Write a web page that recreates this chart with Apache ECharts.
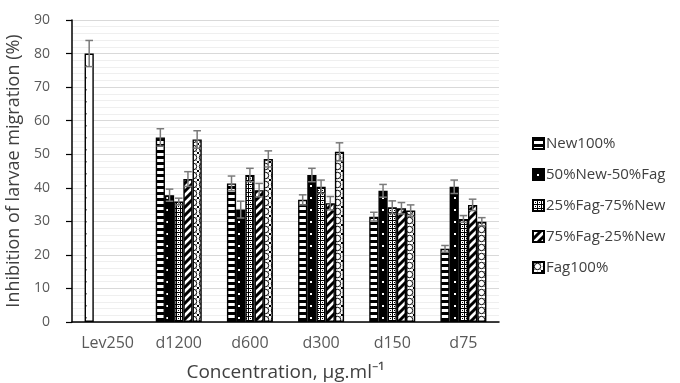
<!DOCTYPE html>
<html><head><meta charset="utf-8">
<script src="https://cdn.jsdelivr.net/npm/echarts@6/dist/echarts.min.js"></script>
<style>html,body{margin:0;padding:0;background:#fff}#c{width:680px;height:383px}</style>
</head><body><div id="c"></div>
<script>
// ---- data ----
const categories = ['Lev250', 'd1200', 'd600', 'd300', 'd150', 'd75'];
const seriesNames = ['New100%', '50%New-50%Fag', '25%Fag-75%New', '75%Fag-25%New', 'Fag100%'];
const new100      = [80.0, 55.0, 41.3, 36.4, 31.4, 21.8];
const new50fag50  = [null, 37.8, 33.5, 43.8, 39.1, 40.3];
const fag25new75  = [null, 35.9, 43.8, 40.3, 34.2, 30.7];
const fag75new25  = [null, 42.6, 39.3, 35.4, 33.9, 34.9];
const fag100      = [null, 54.4, 48.6, 50.7, 33.2, 29.9];
const errNew100     = [3.9, 2.6, 2.2, 1.5, 1.3, 1.0];
const errNew50fag50 = [null, 1.8, 2.5, 2.0, 1.9, 2.0];
const errFag25new75 = [null, 1.0, 2.0, 2.0, 1.9, 1.0];
const errFag75new25 = [null, 2.2, 2.0, 2.0, 1.7, 1.7];
const errFag100     = [null, 2.6, 2.4, 2.7, 1.7, 1.2];
const yMin = 0, yMax = 90, yInterval = 10;

const values = [new100, new50fag50, fag25new75, fag75new25, fag100];
const errors = [errNew100, errNew50fag50, errFag25new75, errFag75new25, errFag100];

// ---- patterns ----
function tile(w, h, draw) {
  const c = document.createElement('canvas');
  c.width = w; c.height = h;
  const g = c.getContext('2d');
  g.fillStyle = '#fff'; g.fillRect(0, 0, w, h);
  g.fillStyle = '#000'; g.strokeStyle = '#000';
  draw(g, w, h);
  return { image: c, repeat: 'repeat' };
}
const patStripes = tile(6, 6, g => { g.fillRect(0, 0, 6, 3); });
const patDotsBlack = tile(9, 12, g => { g.fillRect(0, 0, 9, 12); g.fillStyle = '#fff'; g.fillRect(4, 5, 2, 2); });
const patChecker = tile(4, 4, g => { g.fillRect(0, 0, 4, 1); g.fillRect(0, 0, 1, 4); g.fillRect(2, 2, 1, 1); });
const patDiag = tile(8, 8, g => {
  g.lineWidth = 3;
  g.beginPath();
  g.moveTo(-2, 10); g.lineTo(10, -2);
  g.moveTo(-6, 6); g.lineTo(6, -6);
  g.moveTo(2, 14); g.lineTo(14, 2);
  g.stroke();
});
const patCircles = tile(9, 9, g => {
  g.lineWidth = 1;
  g.beginPath(); g.arc(4.5, 4.5, 3.2, 0, Math.PI * 2); g.stroke();
  g.beginPath();
  [[0, 0], [9, 0], [0, 9], [9, 9]].forEach(([x, y]) => {
    g.moveTo(x - 1.5, y - 1.5); g.lineTo(x + 1.5, y + 1.5);
    g.moveTo(x + 1.5, y - 1.5); g.lineTo(x - 1.5, y + 1.5);
  });
  g.stroke();
});
const patLev = tile(9, 12, g => { g.fillRect(4, 5, 1.5, 1.5); });
const patterns = [patStripes, patDotsBlack, patChecker, patDiag, patCircles];

const BAR_W = 9.2;
const FONT = 'Open Sans';

const barSeries = seriesNames.map((name, i) => ({
  name: name,
  type: 'bar',
  barWidth: BAR_W,
  barGap: '0%',
  itemStyle: { color: patterns[i], borderColor: '#000', borderWidth: 1.4 },
  data: values[i].map((v, k) => {
    if (i === 0 && k === 0) return { value: v, itemStyle: { color: patLev } };
    return v;
  })
}));

const errData = [];
errors.forEach((arr, i) => arr.forEach((e, k) => {
  if (e != null && values[i][k] != null) errData.push([k, i, values[i][k] - e, values[i][k] + e]);
}));

const errSeries = {
  type: 'custom',
  name: 'err',
  z: 10,
  silent: true,
  data: errData,
  renderItem: function (params, api) {
    const k = api.value(0), i = api.value(1);
    const lo = api.coord([k, api.value(2)]);
    const hi = api.coord([k, api.value(3)]);
    const x = lo[0] + (i - 2) * BAR_W;
    const cap = 3.8;
    const st = { stroke: '#7a7a7a', lineWidth: 1.5 };
    return {
      type: 'group',
      children: [
        { type: 'line', shape: { x1: x, y1: lo[1], x2: x, y2: hi[1] }, style: st },
        { type: 'line', shape: { x1: x - cap, y1: hi[1], x2: x + cap, y2: hi[1] }, style: st },
        { type: 'line', shape: { x1: x - cap, y1: lo[1], x2: x + cap, y2: lo[1] }, style: st }
      ]
    };
  }
};

const chart = echarts.init(document.getElementById('c'), null, { renderer: 'canvas' });
chart.setOption({
  animation: false,
  backgroundColor: '#fff',
  textStyle: { fontFamily: FONT },
  grid: { left: 72, right: 181, top: 20, bottom: 61, containLabel: false, outerBoundsMode: 'none' },
  legend: {
    data: seriesNames,
    orient: 'vertical',
    left: 527, top: 131,
    itemWidth: 11, itemHeight: 11, itemGap: 16,
    icon: 'rect',
    textStyle: { fontFamily: FONT, fontSize: 15, color: '#404040', padding: [0, 0, 0, -3] }
  },
  xAxis: {
    type: 'category',
    data: categories,
    axisLine: { lineStyle: { color: '#000', width: 1.5 } },
    axisTick: { show: false },
    axisLabel: { fontFamily: FONT, fontSize: 16, color: '#595959', margin: 13 },
    name: 'Concentration, µg.ml⁻¹',
    nameLocation: 'middle',
    nameGap: 41,
    nameTextStyle: { fontFamily: FONT, fontSize: 19, color: '#404040' }
  },
  yAxis: {
    type: 'value',
    min: yMin, max: yMax, interval: yInterval,
    axisLine: { show: true, lineStyle: { color: '#000', width: 1.5 } },
    axisTick: { show: true, length: 6, lineStyle: { color: '#000', width: 1.2 } },
    axisLabel: { fontFamily: FONT, fontSize: 14, color: '#595959', margin: 22 },
    splitLine: { show: true, lineStyle: { color: '#d9d9d9', width: 1 } },
    minorTick: { show: false, splitNumber: 5 },
    minorSplitLine: { show: true, lineStyle: { color: '#efefef', width: 1 } },
    name: 'Inhibition of larvae migration (%)',
    nameLocation: 'middle',
    nameGap: 37,
    nameTextStyle: { fontFamily: FONT, fontSize: 18, color: '#404040' }
  },
  series: barSeries.concat([errSeries])
});
</script></body></html>
